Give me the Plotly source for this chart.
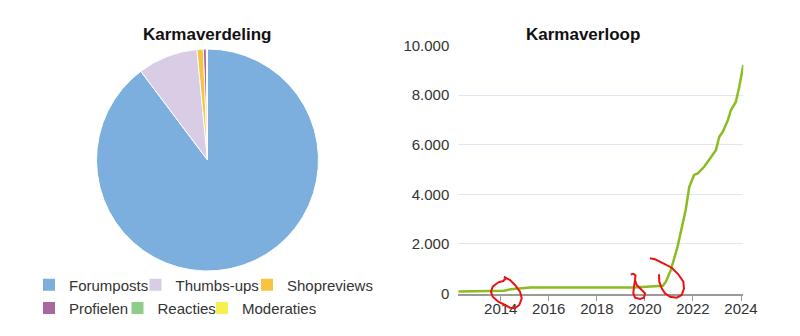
import plotly.graph_objects as go

W, H = 800, 336

# ---------------- data ----------------
slice_labels = ["Forumposts", "Thumbs-ups", "Shopreviews", "Profielen", "Reacties", "Moderaties"]
slice_values = [8265, 805, 85, 40, 10, 5]
slice_colors = ["#7cafdd", "#d9cce5", "#f8c33f", "#a7689f", "#8fcc8a", "#f6ef50"]

karma_dates = ["2012-03-27", "2014-01-01", "2014-02-15", "2014-06-01", "2015-02-01", "2015-04-01",
               "2019-07-20", "2020-02-05", "2020-10-01", "2020-11-15", "2021-01-30", "2021-05-12",
               "2021-09-12", "2021-11-06", "2022-01-18", "2022-03-15", "2022-06-20", "2022-09-01",
               "2022-12-15", "2023-02-05", "2023-03-30", "2023-06-15", "2023-08-01", "2023-10-15",
               "2023-12-05", "2024-02-05"]
karma_values = [80, 100, 110, 170, 225, 240, 240, 280, 310, 475, 950, 1890, 3370, 4300, 4780, 4840,
                5110, 5380, 5780, 6320, 6520, 6990, 7400, 7730, 8330, 9210]

titles = ["Karmaverdeling", "Karmaverloop"]

# ---------------- helpers (pixel -> paper) ----------------
def px(x):
    return x / W

def py(y):
    return 1 - y / H

FONT = "Liberation Sans, Arial, Helvetica, sans-serif"

fig = go.Figure()

fig.add_trace(go.Pie(
    labels=slice_labels, values=slice_values,
    marker=dict(colors=slice_colors, line=dict(color="white", width=1)),
    sort=False, direction="clockwise", rotation=0,
    textinfo="none", showlegend=False,
    domain=dict(x=[px(96.5), px(318.5)], y=[py(271), py(49)]),
))

fig.add_trace(go.Scatter(
    x=karma_dates, y=karma_values, mode="lines",
    line=dict(color="#8bbc21", width=2.5),
    showlegend=False, name="Karma",
))

# legend entries (one legend box per entry so they sit like the original)
legend_pos = [(49, 285), (155.5, 285), (267, 285), (49, 308.3), (137.5, 308.3), (222, 308.3)]
layout_legends = {}
for i, (lab, col) in enumerate(zip(slice_labels, slice_colors)):
    lid = "legend" if i == 0 else f"legend{i+1}"
    fig.add_trace(go.Scatter(
        x=[None], y=[None], mode="markers", name=lab, legend=lid,
        marker=dict(symbol="square", size=12, color=col, line=dict(width=0)),
        showlegend=True, hoverinfo="skip",
    ))
    lx, ly = legend_pos[i]
    layout_legends[lid] = dict(
        x=px(lx - 20), y=py(ly), xanchor="left", yanchor="middle",
        orientation="h", bgcolor="rgba(0,0,0,0)", borderwidth=0,
        font=dict(family=FONT, size=15, color="#333333"),
        itemclick=False, itemdoubleclick=False,
    )

fig.update_layout(
    width=W, height=H,
    margin=dict(l=0, r=0, t=0, b=0, autoexpand=False),
    paper_bgcolor="white", plot_bgcolor="white",
    separators=",.",
    font=dict(family=FONT, size=15, color="#333333"),
    xaxis=dict(
        type="date", domain=[px(458.3), px(743.3)],
        range=[karma_dates[0], karma_dates[-1]],
        tick0="2014-01-01", dtick="M24", tickformat="%Y",
        showgrid=False, zeroline=False,
        showline=True, linecolor="#9a9a9a", linewidth=2,
        ticks="outside", ticklen=5, tickwidth=1, tickcolor="#9a9a9a",
        tickfont=dict(family=FONT, size=15, color="#333333"),
        ticklabelstandoff=-5,
    ),
    yaxis=dict(
        domain=[py(293.5), py(45.5)], range=[0, 10000], dtick=2000,
        tickformat=",d", showgrid=True, gridcolor="#e1e6f2", gridwidth=1,
        zeroline=False, showline=False, ticks="",
        tickfont=dict(family=FONT, size=15, color="#333333"),
        ticklabelstandoff=8,
    ),
    **layout_legends,
)

# titles
for t, cx in zip(titles, [207.5, 583]):
    fig.add_annotation(
        text=f"<b>{t}</b>", x=px(cx), y=py(35), xref="paper", yref="paper",
        xanchor="center", yanchor="middle", showarrow=False,
        font=dict(family=FONT, size=17, color="#111111"),
    )

# red hand-drawn marks present on the reference screenshot
scribbles = [
    [(504, 276.7), (506.7, 278.3), (510, 280), (515, 285), (520, 291.7), (521.7, 298.3), (519.3, 305),
     (515, 308.3), (510, 307.7), (505, 305), (498.3, 301.7), (492.7, 296.7), (491, 291.7),
     (492.7, 286.7), (498.3, 282.3), (503.3, 281), (505.5, 278.5)],
    [(630.7, 274.5), (633.5, 273.8), (635.5, 275.5), (635, 280), (636.7, 285), (641.7, 290), (645, 293.3),
     (644, 297.7), (640, 299), (635, 297.7), (633.3, 293.3), (634, 286.7), (635, 280)],
    [(650, 258.3), (655, 259.3), (663.3, 263.3), (671.7, 267.7), (678.3, 274.3), (683.3, 281.7),
     (684, 288.3), (681.7, 295), (676.7, 297.7), (670, 296.7), (665, 293.3), (661.7, 288.3),
     (659.3, 281.7), (659, 274.3)],
]
for pts in scribbles:
    path = "M " + " L ".join(f"{px(x):.5f},{py(y):.5f}" for x, y in pts)
    fig.add_shape(type="path", path=path, xref="paper", yref="paper",
                  line=dict(color="#ee1111", width=2), layer="above")

fig.write_html("out.html")
